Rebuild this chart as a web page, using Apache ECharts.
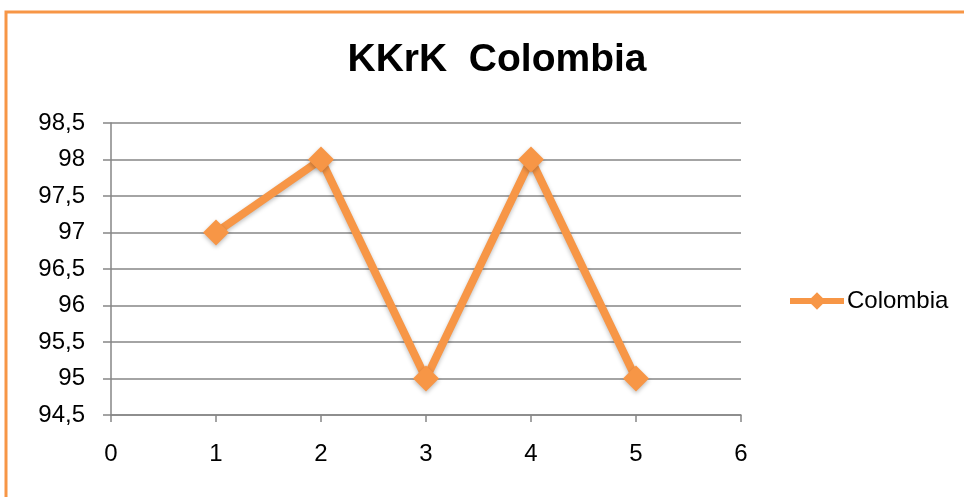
<!DOCTYPE html>
<html><head><meta charset="utf-8">
<script src="https://cdn.jsdelivr.net/npm/echarts@6/dist/echarts.min.js"></script>
<style>html,body{margin:0;padding:0;background:#fff}#c{width:964px;height:497px}</style>
</head><body><div id="c"></div>
<script>
const xValues = [1, 2, 3, 4, 5];
const seriesValues = [97, 98, 95, 98, 95];
const seriesName = 'Colombia';
const titleText = 'KKrK  Colombia';

const FONT = '"Liberation Sans", Arial, sans-serif';
const chart = echarts.init(document.getElementById('c'));
chart.setOption({
  backgroundColor: '#fff',
  animation: false,
  graphic: [{
    type: 'rect', silent: true,
    shape: { x: 6, y: 12, width: 1000, height: 600 },
    style: { fill: 'none', stroke: '#F79646', lineWidth: 3 }
  }],
  title: {
    text: titleText, left: 492, top: 36, textAlign: 'center',
    textStyle: { fontFamily: FONT, fontWeight: 'bold', fontSize: 39, color: '#000' }
  },
  legend: {
    left: 782, top: 284, itemWidth: 54, itemHeight: 22, itemGap: 4,
    lineStyle: { width: 6, color: '#F79646' },
    textStyle: { fontFamily: FONT, fontSize: 24, color: '#000', padding: [0,0,0,-2] },
    data: [{ name: seriesName }]
  },
  grid: { left: 111, right: 223, top: 123, bottom: 82 },
  xAxis: {
    type: 'value', min: 0, max: 6, interval: 1,
    axisLine: { lineStyle: { color: '#868686', width: 1.5 } },
    axisTick: { show: true, length: 7, lineStyle: { color: '#868686', width: 1.5 } },
    splitLine: { show: false },
    axisLabel: { fontFamily: FONT, fontSize: 24, color: '#000', margin: 27 }
  },
  yAxis: {
    type: 'value', min: 94.5, max: 98.5, interval: 0.5,
    axisLine: { show: true, lineStyle: { color: '#868686', width: 1.5 } },
    axisTick: { show: true, length: 8, lineStyle: { color: '#868686', width: 1.5 } },
    splitLine: { lineStyle: { color: '#868686', width: 1.5 } },
    axisLabel: { fontFamily: FONT, fontSize: 24, color: '#000', margin: 26,
      formatter: v => String(v).replace('.', ',') }
  },
  series: [{
    name: seriesName, type: 'line',
    data: xValues.map((x, i) => [x, seriesValues[i]]),
    symbol: 'diamond', symbolSize: 26,
    lineStyle: { color: '#F79646', width: 8, shadowColor: 'rgba(0,0,0,0.25)', shadowBlur: 4, shadowOffsetY: 2 },
    itemStyle: { color: '#F79646', shadowColor: 'rgba(0,0,0,0.25)', shadowBlur: 4, shadowOffsetY: 2 }
  }]
});
</script></body></html>
